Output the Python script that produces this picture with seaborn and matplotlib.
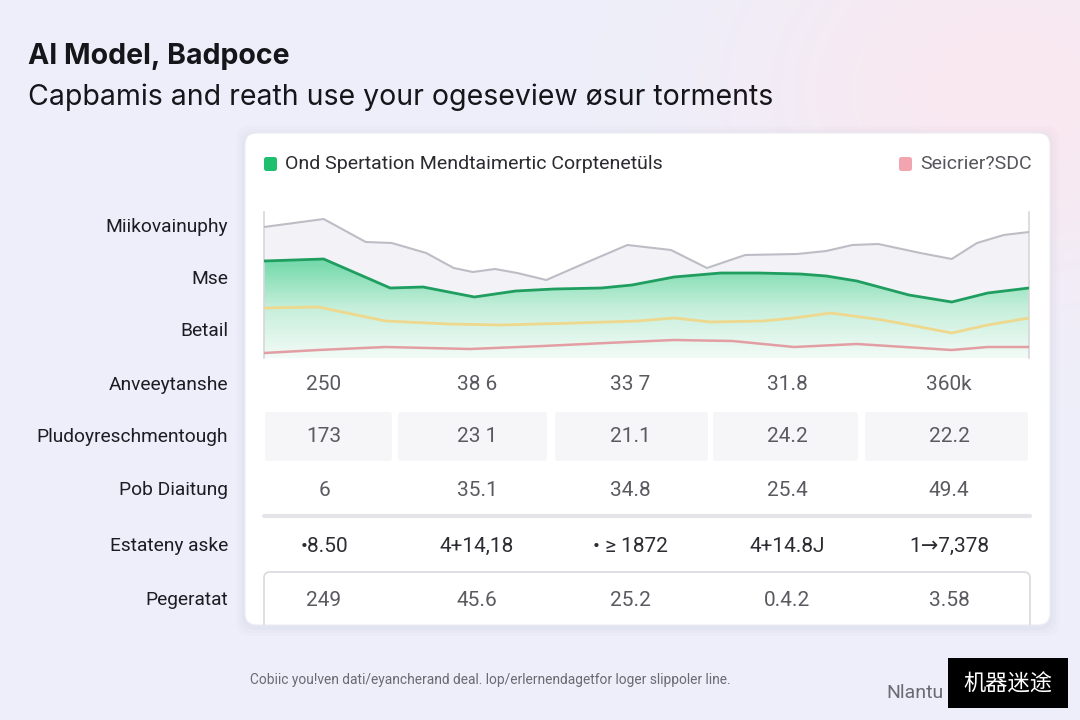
import numpy as np
import pandas as pd
import seaborn as sns
import matplotlib.pyplot as plt
from matplotlib.patches import FancyBboxPatch
from matplotlib.colors import LinearSegmentedColormap

# chart series (x on a 0-100 scale, y)
gray_x = [0, 7.8, 13.3, 16.7, 21.2, 24.8, 27.3, 30.2, 33.1, 36.9, 42, 47.5, 53.2, 57.9,
          62.9, 69.7, 73.5, 76.9, 80.3, 85.8, 89.9, 93.2, 96.7, 100]
gray_y = [131, 139, 116, 115, 105, 90, 86, 89, 85, 78, 95, 113, 108, 90,
          103, 104, 107, 113, 114, 105, 99, 115, 123, 126]
green_x = [0, 7.8, 16.5, 20.8, 27.5, 32.9, 37.9, 44.1, 48.1, 53.6, 59.7, 64.6, 70.1,
           73.5, 77.5, 84.3, 89.9, 94.6, 100]
green_y = [97, 99, 70, 71, 61, 67, 69, 70, 73, 81, 85, 85, 84, 82, 77, 63, 56, 65, 70]
yellow_x = [0, 7.1, 15.9, 24.2, 31.0, 40.7, 48.8, 53.6, 58.4, 65.2, 69.3, 74.1, 80.9,
            85.8, 89.9, 94.6, 100]
yellow_y = [50, 51, 37, 34, 33, 35, 37, 40, 36, 37, 40, 45, 38, 31, 25, 33, 40]
red_x = [0, 7.1, 15.9, 26.9, 36.5, 44.7, 53.6, 61.2, 69.3, 77.5, 85.8, 89.9, 94.6, 100]
red_y = [5, 8, 11, 9, 12, 15, 18, 17, 11, 14, 10, 8, 11, 11]

chart_labels = ["Miikovainuphy", "Mse", "Betail"]
row_labels = ["Anveeytanshe", "Pludoyreschmentough", "Pob Diaitung",
              "Estateny aske", "Pegeratat"]
table_values = [
    ["250", "38 6", "33 7", "31.8", "360k"],
    ["173", "23 1", "21.1", "24.2", "22.2"],
    ["6", "35.1", "34.8", "25.4", "49.4"],
    ["•8.50", "4+14,18", "• ≥ 1872", "4+14.8J", "1→7,378"],
    ["249", "45.6", "25.2", "0.4.2", "3.58"],
]

title = "AI Model, Badpoce"
subtitle = "Capbamis and reath use your ogeseview øsur torments"
legend_left = "Ond Spertation Mendtaimertic Corptenetüls"
legend_right = "Seicrier?SDC"
footer = "Cobiic you!ven dati/eyancherand deal. lop/erlernendagetfor loger slippoler line."

sns.set_theme(style="white")
plt.rcParams['font.family'] = ['Roboto', 'DejaVu Sans']

fig = plt.figure(figsize=(10.8, 7.2), dpi=100)

# background in pixel coordinates
bg = fig.add_axes([0, 0, 1, 1])
bg.set_xlim(0, 1080)
bg.set_ylim(720, 0)
bg.axis('off')
yy, xx = np.mgrid[0:720, 0:1080]
base = np.array([237, 239, 250]) / 255
pink = np.array([250, 232, 240]) / 255
w = np.exp(-(((xx - 1010) / 260) ** 2 + ((yy - 90) / 200) ** 2))
img = base[None, None, :] * (1 - w[..., None]) + pink[None, None, :] * w[..., None]
bg.imshow(img, extent=(0, 1080, 720, 0), aspect='auto', zorder=0)

# card with soft shadow
for i, a in enumerate([0.025, 0.02, 0.015]):
    d = 3 + i * 3
    bg.add_patch(FancyBboxPatch((245 - d, 133 - d + 2), 805 + 2 * d, 492 + 2 * d,
                                boxstyle="round,pad=0,rounding_size=14",
                                fc=(0.4, 0.4, 0.55, a), ec='none', zorder=1))
card = FancyBboxPatch((245, 133), 805, 492, boxstyle="round,pad=0,rounding_size=12",
                      fc='white', ec='#ececf2', lw=0.8, zorder=2)
bg.add_patch(card)

# titles
bg.text(28, 56, title, fontsize=20.5, fontweight='bold', family=['Inter', 'DejaVu Sans'],
        color='#15151a', va='center', ha='left', zorder=3)
bg.text(28, 97, subtitle, fontsize=20.5, family=['Inter', 'DejaVu Sans'],
        color='#15151a', va='center', ha='left', zorder=3)

# legend row
bg.add_patch(FancyBboxPatch((264, 157), 13, 14, boxstyle="round,pad=0,rounding_size=2.5",
                            fc='#1fbf6f', ec='none', zorder=3))
bg.text(285, 164, legend_left, fontsize=14, color='#2a2a30', va='center', zorder=3)
bg.add_patch(FancyBboxPatch((899, 157), 13, 14, boxstyle="round,pad=0,rounding_size=2.5",
                            fc='#f2a5b0', ec='none', zorder=3))
bg.text(920, 164, legend_right, fontsize=14, color='#55555c', va='center', zorder=3)

# row labels beside the chart and table
label_y = [227, 279, 331, 385, 437, 490, 546, 600]
for lab, y in zip(chart_labels + row_labels, label_y):
    bg.text(228, y, lab, fontsize=13.8, color='#1c1c22', ha='right', va='center', zorder=3)

# table
col_x = [324, 477, 630, 787, 949]
cell_edges = [(265, 392), (398, 547), (555, 708), (713, 858), (865, 1028)]
for x0, x1 in cell_edges:
    bg.add_patch(FancyBboxPatch((x0, 412), x1 - x0, 49, boxstyle="round,pad=0,rounding_size=3",
                                fc='#f6f6f8', ec='none', zorder=3))
bg.plot([264, 1030], [516, 516], color='#e4e4e9', lw=3, zorder=3, solid_capstyle='round')
box = FancyBboxPatch((264, 572), 766, 90, boxstyle="round,pad=0,rounding_size=6",
                     fc='none', ec='#d9d9de', lw=1.2, zorder=3)
bg.add_patch(box)
box.set_clip_path(card)

row_y = [385, 437, 490, 546, 600]
for r, y in enumerate(row_y):
    for c, x in enumerate(col_x):
        colr = '#2c2c32' if r == 3 else '#5a5a60'
        bg.text(x, y, table_values[r][c], fontsize=15, color=colr, ha='center',
                va='center', zorder=4)

# footer and watermark
bg.text(250, 680, footer, fontsize=9.9, color='#6a6a72', va='center', zorder=3)
bg.text(886, 693, "Nlantu", fontsize=14, color='#6a6a72', va='center', zorder=3)
bg.add_patch(plt.Rectangle((948, 658), 120, 50, fc='black', ec='none', zorder=5))
bg.text(1008, 684, "机器迷途", fontsize=16, color='white', ha='center', va='center',
        family=['Noto Sans CJK SC', 'DejaVu Sans'], zorder=6)

# chart area
ax = fig.add_axes([264 / 1080, (720 - 358) / 720, 765 / 1080, 146 / 720])
ax.set_facecolor('none')
ax.set_xlim(0, 100)
ax.set_ylim(0, 146)

green_top = np.interp(gray_x, green_x, green_y)
ax.fill_between(gray_x, gray_y, green_top, color='#f2f2f7', lw=0, zorder=1)

poly = ax.fill_between(green_x, green_y, 0, color='none', lw=0)
cmap = LinearSegmentedColormap.from_list('g', ['#f3fbf7', '#c6efdb', '#6fd8a8'])
grad = np.linspace(0, 1, 256).reshape(-1, 1)
im = ax.imshow(grad, extent=(0, 100, 0, 100), origin='lower', aspect='auto',
               cmap=cmap, zorder=2)
im.set_clip_path(poly.get_paths()[0], transform=ax.transData)
ax.set_ylim(0, 146)

sns.lineplot(x=gray_x, y=gray_y, ax=ax, color='#bdbdc6', linewidth=1.5, zorder=3)
sns.lineplot(x=green_x, y=green_y, ax=ax, color='#1f9e60', linewidth=2, zorder=4)
sns.lineplot(x=yellow_x, y=yellow_y, ax=ax, color='#eed88e', linewidth=2, zorder=4)
sns.lineplot(x=red_x, y=red_y, ax=ax, color='#e39ea3', linewidth=1.8, zorder=4)

ax.set_xticks([])
ax.set_yticks([])
for s in ['top', 'bottom']:
    ax.spines[s].set_visible(False)
for s in ['left', 'right']:
    ax.spines[s].set_color('#d6d6dc')
    ax.spines[s].set_linewidth(1.2)

fig.savefig('out.png', dpi=100)
